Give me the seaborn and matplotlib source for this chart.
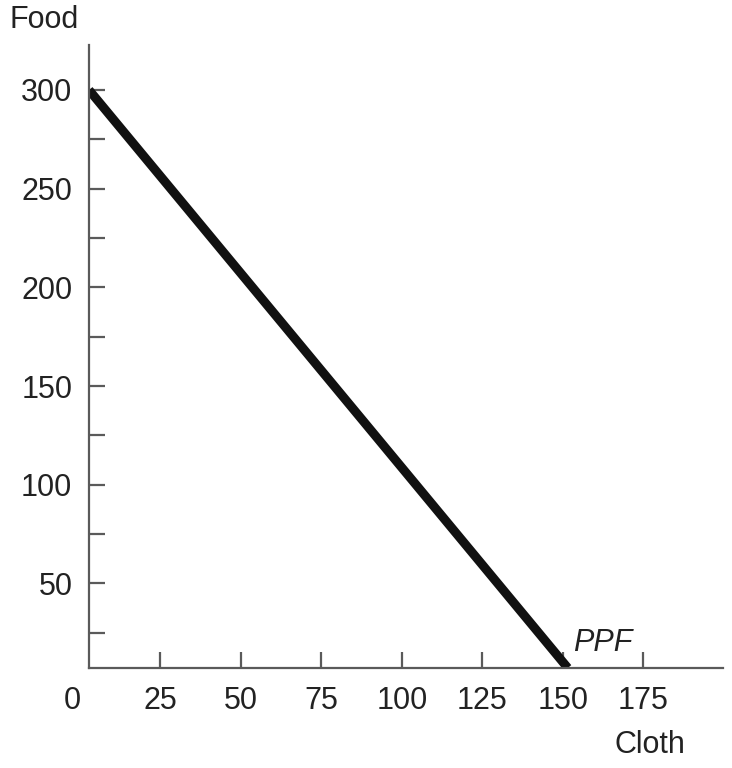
import numpy as np
import pandas as pd
import matplotlib
matplotlib.use("Agg")
import matplotlib.pyplot as plt
import seaborn as sns

# PPF end points (axes are slightly offset from zero)
cloth = [2.8, 151.5]
food = [300, 7.1]
x_ticks = [25, 50, 75, 100, 125, 150, 175]
y_major = [50, 100, 150, 200, 250, 300]
y_minor = [25, 75, 125, 175, 225, 275]

sns.set_style("ticks")
plt.rcParams["font.family"] = ["Liberation Sans", "DejaVu Sans"]

W, H = 732, 768
FS = 22
txt_col = "#222222"

fig = plt.figure(figsize=(W / 100, H / 100), dpi=100)
ax = fig.add_axes([89 / W, 100 / H, (723 - 89) / W, (668 - 45) / H])

df = pd.DataFrame({"Cloth": cloth, "Food": food})
sns.lineplot(data=df, x="Cloth", y="Food", ax=ax, color="#111111",
             linewidth=6.5, solid_capstyle="butt")

ax.set_xlim(2.8, 199.7)
ax.set_ylim(7.1, 322.8)
ax.set_xlabel("")
ax.set_ylabel("")

axis_col = "#5a5a5a"
for side in ["top", "right"]:
    ax.spines[side].set_visible(False)
for side in ["left", "bottom"]:
    ax.spines[side].set_color(axis_col)
    ax.spines[side].set_linewidth(1.6)

ax.set_xticks(x_ticks)
ax.set_xticklabels([str(v) for v in x_ticks])
ax.set_yticks(y_major)
ax.set_yticklabels([str(v) for v in y_major])
ax.set_yticks(y_minor, minor=True)
ax.tick_params(axis="both", which="both", direction="in", length=11.5,
               width=1.6, color=axis_col, labelsize=FS, labelcolor=txt_col)
ax.tick_params(axis="x", pad=13)
ax.tick_params(axis="y", pad=12)

# the "0" at the corner sits a bit left of the y axis
ax.annotate("0", xy=(-2.5, 0), xycoords=("data", "axes fraction"),
            xytext=(0, -13), textcoords="offset points", ha="center", va="top",
            fontsize=FS, color=txt_col, annotation_clip=False)

ax.text(153, 20, "PPF", style="italic", fontsize=FS, color=txt_col,
        ha="left", va="center")

fig.text(44 / W, 1 - 20 / H, "Food", fontsize=FS, color=txt_col,
         ha="center", va="center")
fig.text(650 / W, 1 - 745 / H, "Cloth", fontsize=FS, color=txt_col,
         ha="center", va="center")

fig.savefig("out.png", dpi=100)
